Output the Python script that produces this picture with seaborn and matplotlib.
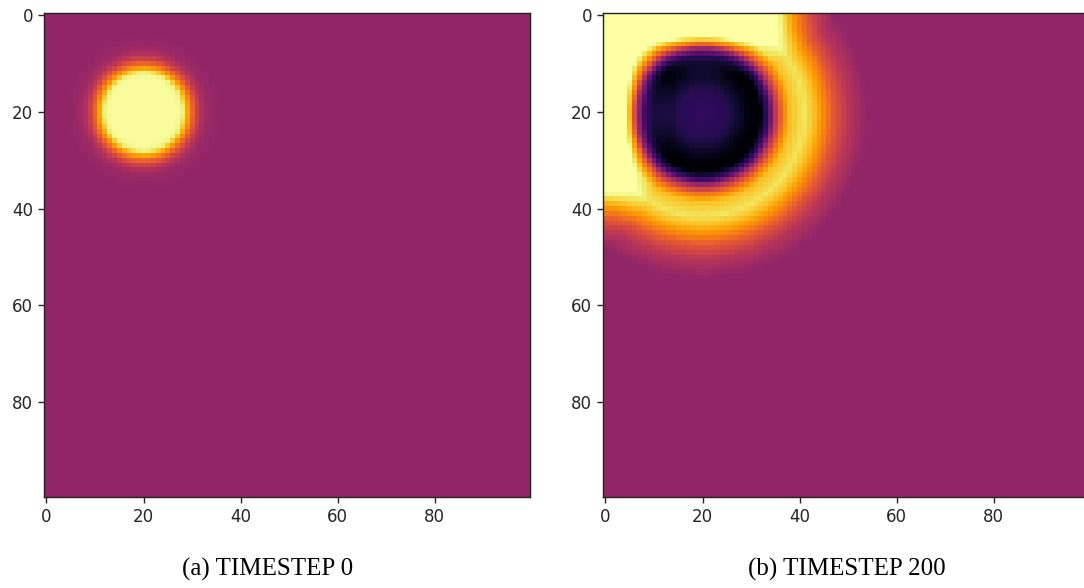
import numpy as np
import pandas as pd
import matplotlib
matplotlib.use('Agg')
import matplotlib.pyplot as plt
import seaborn as sns

# grid size of the simulation field
n = 100
background = 0.395

# timestep 0: bright disc centred at (20, 20) - radial profile
disc_center = (20, 20)
disc_radius = [0, 7, 8, 9, 10, 11, 12, 13, 14, 16]
disc_value = [0.99, 0.99, 0.96, 0.80, 0.66, 0.55, 0.47, 0.43, 0.41, 0.395]

# timestep 200: dark hole with an outgoing yellow ring, mirrored at the walls
ring_center = (20, 20.5)
ring_radius = [0, 5, 8, 10.5, 12, 13.5, 15, 16.5, 18, 21, 23, 25, 27, 30, 34]
ring_value = [0.17, 0.14, 0.06, 0.0, 0.02, 0.2, 0.5, 0.7, 0.85, 0.93, 0.85, 0.74, 0.62, 0.49, 0.395]

tick_pos = [0, 20, 40, 60, 80]
tick_labels = ['0', '20', '40', '60', '80']
captions = ['(a) TIMESTEP 0', '(b) TIMESTEP 200']

yy, xx = np.mgrid[0:n, 0:n]


def radial_field(center, radii, values, mirrored=False):
    cx, cy = center
    sources = [(cx, cy)]
    if mirrored:
        sources += [(-cx, cy), (cx, -cy), (-cx, -cy)]
    field = np.full((n, n), background)
    for sx, sy in sources:
        r = np.hypot(xx - sx, yy - sy)
        field += np.interp(r, radii, values) - background
    return pd.DataFrame(field)


frames = [
    radial_field(disc_center, disc_radius, disc_value),
    radial_field(ring_center, ring_radius, ring_value, mirrored=True),
]

fig = plt.figure(figsize=(10.84, 5.88), dpi=100)
W, H = 1084, 588
lefts = [44, 603]
for left, frame in zip(lefts, frames):
    ax = fig.add_axes([left / W, (H - 496.5) / H, 485.5 / W, 484 / H])
    sns.heatmap(frame, ax=ax, cmap='inferno', vmin=0, vmax=1, cbar=False,
                xticklabels=False, yticklabels=False)
    ax.set_xticks([p + 0.5 for p in tick_pos])
    ax.set_yticks([p + 0.5 for p in tick_pos])
    ax.set_xticklabels(tick_labels, fontsize=12, color='#262626', family='DejaVu Sans')
    ax.set_yticklabels(tick_labels, fontsize=12, color='#262626', family='DejaVu Sans',
                       rotation=0)
    ax.tick_params(length=4, width=1, color='#262626', pad=4)
    for s in ax.spines.values():
        s.set_visible(True)
        s.set_color('#222222')
        s.set_linewidth(1)

fig.text(268 / W, 1 - 569 / H, captions[0], ha='center', va='center',
         fontsize=18, family='Liberation Serif')
fig.text(847 / W, 1 - 569 / H, captions[1], ha='center', va='center',
         fontsize=18, family='Liberation Serif')

fig.savefig('out.png', dpi=100)
